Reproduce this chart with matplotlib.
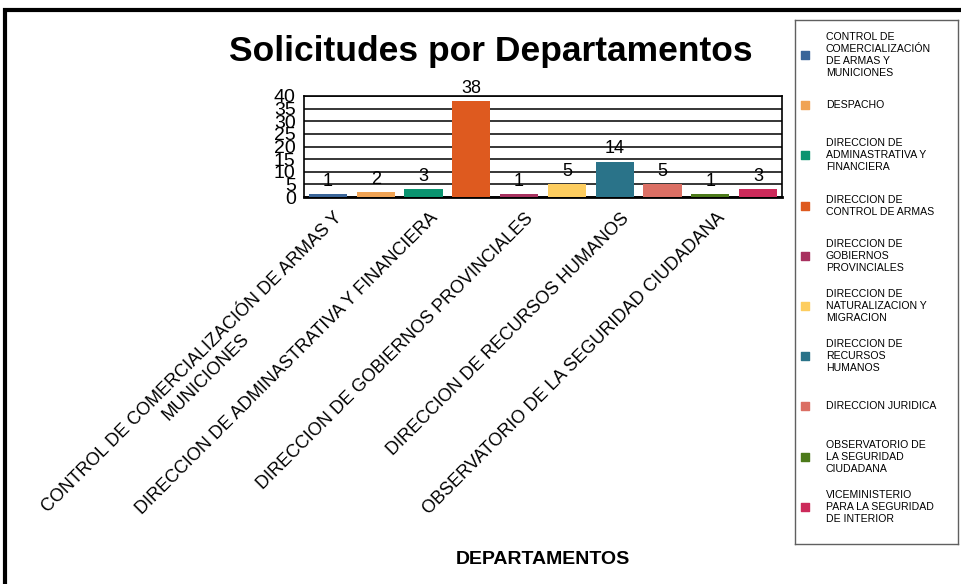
import matplotlib.pyplot as plt
from matplotlib.patches import Rectangle
from matplotlib.transforms import ScaledTranslation

plt.rcParams['font.family'] = ['Liberation Sans', 'DejaVu Sans']

departamentos = [
    'CONTROL DE COMERCIALIZACIÓN DE ARMAS Y MUNICIONES',
    'DESPACHO',
    'DIRECCION DE ADMINASTRATIVA Y FINANCIERA',
    'DIRECCION DE CONTROL DE ARMAS',
    'DIRECCION DE GOBIERNOS PROVINCIALES',
    'DIRECCION DE NATURALIZACION Y MIGRACION',
    'DIRECCION DE RECURSOS HUMANOS',
    'DIRECCION JURIDICA',
    'OBSERVATORIO DE LA SEGURIDAD CIUDADANA',
    'VICEMINISTERIO PARA LA SEGURIDAD DE INTERIOR',
]
solicitudes = [1, 2, 3, 38, 1, 5, 14, 5, 1, 3]
colores = ['#3A6599', '#F0A354', '#0B9470', '#DE5A1F', '#A8315F',
           '#FDCD5F', '#2A7389', '#DB6F64', '#4C7A1A', '#CC2A5A']

# legend text as it is wrapped in the reference
leyenda = [
    'CONTROL DE\nCOMERCIALIZACIÓN\nDE ARMAS Y\nMUNICIONES',
    'DESPACHO',
    'DIRECCION DE\nADMINASTRATIVA Y\nFINANCIERA',
    'DIRECCION DE\nCONTROL DE ARMAS',
    'DIRECCION DE\nGOBIERNOS\nPROVINCIALES',
    'DIRECCION DE\nNATURALIZACION Y\nMIGRACION',
    'DIRECCION DE\nRECURSOS\nHUMANOS',
    'DIRECCION JURIDICA',
    'OBSERVATORIO DE\nLA SEGURIDAD\nCIUDADANA',
    'VICEMINISTERIO\nPARA LA SEGURIDAD\nDE INTERIOR',
]

# only every other category gets an axis label
etiquetas_x = [
    'CONTROL DE COMERCIALIZACIÓN DE ARMAS Y\nMUNICIONES',
    'DIRECCION DE ADMINASTRATIVA Y FINANCIERA',
    'DIRECCION DE GOBIERNOS PROVINCIALES',
    'DIRECCION DE RECURSOS HUMANOS',
    'OBSERVATORIO DE LA SEGURIDAD CIUDADANA',
]

W, H = 962, 584
fig = plt.figure(figsize=(W / 100, H / 100), dpi=100)

# outer frame (left and top edges visible)
fig.patches.append(Rectangle((5 / W, -0.1), 2, 1 - 10 / H + 0.1,
                             transform=fig.transFigure, fill=False,
                             edgecolor='black', linewidth=3))

ax = fig.add_axes([304 / W, 1 - 197 / H, 478 / W, 101 / H])
x = list(range(len(solicitudes)))
bars = ax.bar(x, solicitudes, width=0.8, color=colores, zorder=3)
ax.bar_label(bars, labels=[str(v) for v in solicitudes], padding=3, fontsize=13)

ax.set_xlim(-0.5, len(solicitudes) - 0.5)
ax.set_ylim(0, 40)
ax.set_yticks(range(0, 41, 5))
ax.yaxis.grid(True, color='black', linewidth=1.1, zorder=0)
ax.tick_params(axis='y', length=0, pad=6, labelsize=14)
ax.tick_params(axis='x', length=0, pad=4)
for s in ax.spines.values():
    s.set_linewidth(1.2)
ax.spines['bottom'].set_linewidth(2)

ax.set_xticks(x[::2])
ax.set_xticklabels(etiquetas_x, rotation=45, ha='right', va='top',
                   rotation_mode='anchor', fontsize=13, multialignment='center')
desplaza = ScaledTranslation(6 / 100, -7 / 100, fig.dpi_scale_trans)
for lab in ax.get_xticklabels():
    lab.set_transform(lab.get_transform() + desplaza)

fig.text(491 / W, 1 - 52 / H, 'Solicitudes por Departamentos',
         ha='center', va='center', fontsize=25.5, fontweight='bold')
fig.text(543 / W, 1 - 560 / H, 'DEPARTAMENTOS',
         ha='center', va='center', fontsize=14, fontweight='bold')

# legend drawn in its own box
lg = fig.add_axes([795 / W, 1 - 544 / H, 163 / W, 524 / H])
lg.set_xlim(0, 1)
lg.set_ylim(9.74, -0.697)
lg.set_xticks([])
lg.set_yticks([])
for s in lg.spines.values():
    s.set_edgecolor('#606060')
    s.set_linewidth(1)
for i, (txt, c) in enumerate(zip(leyenda, colores)):
    lg.scatter([0.06], [i], marker='s', s=36, color=c)
    lg.text(0.19, i, txt, fontsize=7.6, va='center', ha='left',
            multialignment='left', linespacing=1.25)

fig.savefig('out.png', dpi=100)
